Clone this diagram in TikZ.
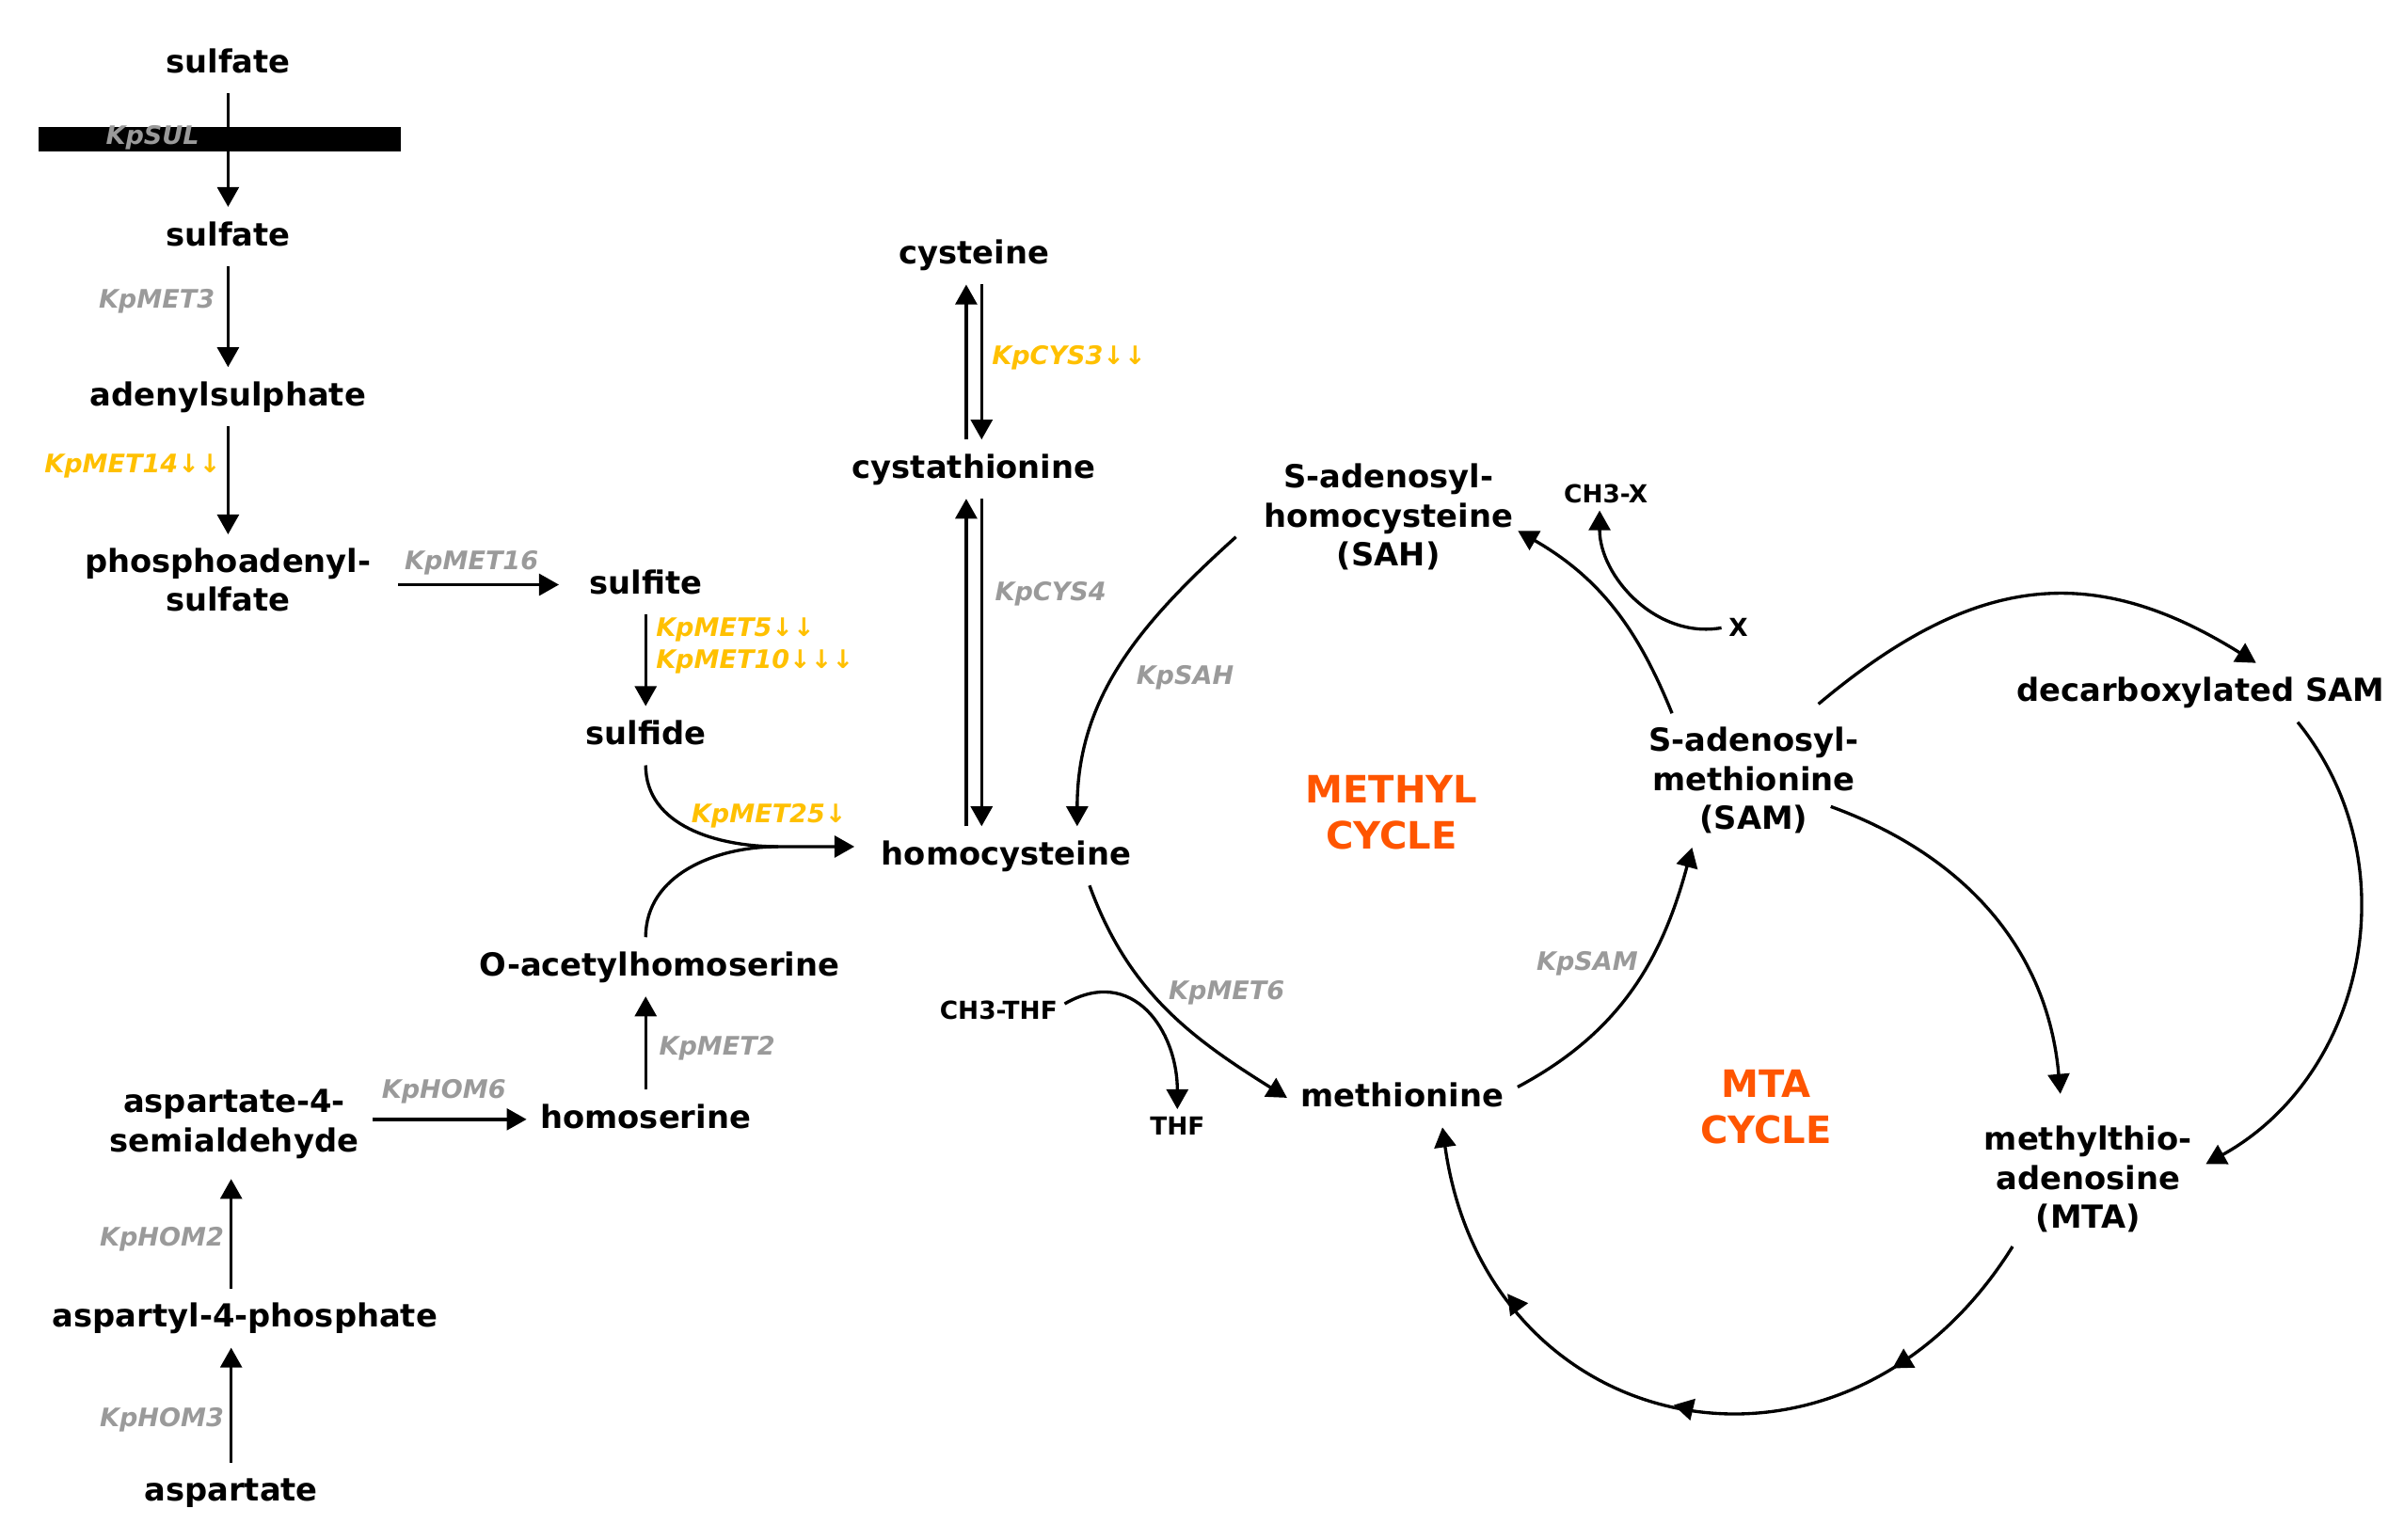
\documentclass[tikz,border=0pt]{standalone}
\usepackage{fontspec}
\setmainfont{DejaVu Sans}
\usetikzlibrary{arrows.meta,calc,decorations.markings}
\definecolor{enzgrey}{HTML}{9A9A9A}
\definecolor{enzgold}{HTML}{FFC000}
\definecolor{cycorange}{HTML}{FF5500}

\begin{document}
\begin{tikzpicture}[x=0.016378cm,y=0.016378cm,
  met/.style={font=\fontsize{9.6}{11.8}\selectfont\bfseries,inner sep=4pt,text height=7.5pt,text depth=2pt},
  metml/.style={font=\fontsize{9.6}{11.8}\selectfont\bfseries,inner sep=4pt,align=center},
  cofac/.style={font=\fontsize{7.5}{9}\selectfont\bfseries,inner sep=2pt},
  enz/.style={font=\fontsize{7.7}{9.4}\selectfont\bfseries\itshape,text=enzgrey,inner sep=2pt},
  enzdown/.style={enz,text=enzgold},
  cyc/.style={font=\fontsize{11.4}{13.9}\selectfont\bfseries,text=cycorange,align=center},
  rxn/.style={line width=0.95pt,-{Triangle[width=6.5pt,length=6pt]}},
  midtips/.style={postaction={decorate},decoration={markings,
    mark=at position 0.22 with {\arrow{Triangle[width=6.5pt,length=6pt]}},
    mark=at position 0.51 with {\arrow{Triangle[width=6.5pt,length=6pt]}},
    mark=at position 0.77 with {\arrow{Triangle[width=6.5pt,length=6pt]}}}}]
  \useasboundingbox (0,0) rectangle (1560,999.5);

  \node[met] (sulf1) at (148,958) {sulfate};
  \node[fill=black,minimum width=3.849cm,minimum height=0.262cm,inner sep=0pt] (membrane) at (142.5,909) {};
  \node[met] (sulf2) at (148,846) {sulfate};
  \node[met] (adenyl) at (148,742) {adenylsulphate};
  \node[metml] (paps) at (148,623) {phosphoadenyl-\\sulfate};
  \node[met] (sulfite) at (419,620) {sulfite};
  \node[met] (sulfide) at (419,522) {sulfide};
  \node[met] (oacetyl) at (428,372) {O-acetylhomoserine};
  \node[met] (homoser) at (419,273) {homoserine};
  \node[metml] (asa) at (152,270) {aspartate-4-\\semialdehyde};
  \node[met] (asp4p) at (159,144) {aspartyl-4-phosphate};
  \node[met] (asp) at (150,31) {aspartate};
  \node[met] (cys) at (632,834) {cysteine};
  \node[met] (cysta) at (632,695) {cystathionine};
  \node[met] (hcys) at (653,444) {homocysteine};
  \node[metml] (sah) at (901,664) {S-adenosyl-\\homocysteine\\(SAH)};
  \node[cofac] (ch3x) at (1042,679) {CH3-X};
  \node[cofac] (xacc) at (1128,592) {X};
  \node[metml] (sam) at (1138,493) {S-adenosyl-\\methionine\\(SAM)};
  \node[met] (meth) at (910,287) {methionine};
  \node[cofac] (ch3thf) at (648,344) {CH3-THF};
  \node[cofac] (thf) at (764,269) {THF};
  \node[met] (dcsam) at (1428,550) {decarboxylated SAM};
  \node[metml] (mta) at (1355,234) {methylthio-\\adenosine\\(MTA)};
  \node[cyc] (methylcyc) at (903,472) {METHYL\\CYCLE};
  \node[cyc] (mtacyc) at (1146,281) {MTA\\CYCLE};
  \coordinate (merge) at (505,450);

  \node[enz] (kpsul) at (99,910) {KpSUL};
  \node[enz,anchor=east] (kpmet3) at (144,804) {KpMET3};
  \node[enzdown,anchor=east] (kpmet14) at (148,697) {KpMET14↓↓};
  \node[enz] (kpmet16) at (306,634) {KpMET16};
  \node[enzdown,anchor=west] (kpmet5) at (421,591) {KpMET5↓↓};
  \node[enzdown,anchor=west] (kpmet10) at (421,570) {KpMET10↓↓↓};
  \node[enzdown] (kpmet25) at (499,470) {KpMET25↓};
  \node[enz,anchor=west] (kpmet2) at (423,319) {KpMET2};
  \node[enz] (kphom6) at (288,291) {KpHOM6};
  \node[enz,anchor=east] (kphom2) at (150,195) {KpHOM2};
  \node[enz,anchor=east] (kphom3) at (150,78) {KpHOM3};
  \node[enzdown,anchor=west] (kpcys3) at (639,767) {KpCYS3↓↓};
  \node[enz,anchor=west] (kpcys4) at (641,614) {KpCYS4};
  \node[enz] (kpsah) at (769,560) {KpSAH};
  \node[enz] (kpmet6) at (796,355) {KpMET6};
  \node[enz] (kpsam) at (1030,374) {KpSAM};

  \draw[rxn] (sulf1) -- (sulf2);
  \draw[rxn] (sulf2) -- (adenyl);
  \draw[rxn] (adenyl) -- (paps);
  \draw[rxn,shorten <=4pt,shorten >=5pt] (paps.east |- sulfite) -- (sulfite);
  \draw[rxn] (sulfite) -- (sulfide);
  \draw[rxn,shorten >=4pt] (sulfide.south) to[out=-90,in=180] (merge) -- (merge -| hcys.west);
  \draw[line width=0.95pt] (oacetyl.north -| sulfide) to[out=90,in=180] (merge);
  \draw[rxn] (homoser) -- (homoser |- oacetyl.south);
  \draw[rxn] (asa.east |- homoser) -- (homoser);
  \draw[rxn] (asp) -- (asp |- asp4p.south);
  \draw[rxn,shorten >=2pt] (asp |- asp4p.north) -- (asp |- asa.south);

  \draw[rxn] ($(cysta.north)+(-5,0)$) -- ($(cys.south)+(-5,0)$);
  \draw[rxn] ($(cys.south)+(5,0)$) -- ($(cysta.north)+(5,0)$);
  \draw[rxn] ($(cysta.south |- hcys.north)+(-5,0)$) -- ($(cysta.south)+(-5,0)$);
  \draw[rxn] ($(cysta.south)+(5,0)$) -- ($(cysta.south |- hcys.north)+(5,0)$);

  \draw[rxn] ([shift={(-9,-13)}]sah.west) to[out=222,in=90] ([shift={(46,0)}]hcys.north);
  \draw[rxn] ([shift={(54,0)}]hcys.south) to[out=-70,in=148] (meth.west);
  \draw[rxn] ([shift={(0,4)}]ch3thf.east) to[out=30,in=90,looseness=1.3] (thf.north);
  \draw[rxn] ([shift={(0,7)}]meth.east) to[out=28,in=-105] ([shift={(-40,0)}]sam.south);
  \draw[rxn] ([shift={(-53,0)}]sam.north) to[out=112,in=-30] ([shift={(-6,-9)}]sah.east);
  \draw[rxn] (xacc.west) to[out=190,in=-90] ([shift={(-4,0)}]ch3x.south);

  \draw[rxn] ([shift={(42,6)}]sam.north) to[out=40,in=148,looseness=1.15] ([shift={(36,0)}]dcsam.north);
  \draw[rxn] ([shift={(63,0)}]dcsam.south) to[out=-51,in=29,looseness=1.03] ([shift={(0,10)}]mta.east);
  \draw[rxn] ([shift={(50,-17)}]sam.center) to[out=-20,in=95] ([shift={(-18,12)}]mta.north);
  \draw[rxn,midtips] ([shift={(-49,0)}]mta.south) to[out=-122,in=-82,looseness=1.4] ([shift={(26,0)}]meth.south);
\end{tikzpicture}
\end{document}
